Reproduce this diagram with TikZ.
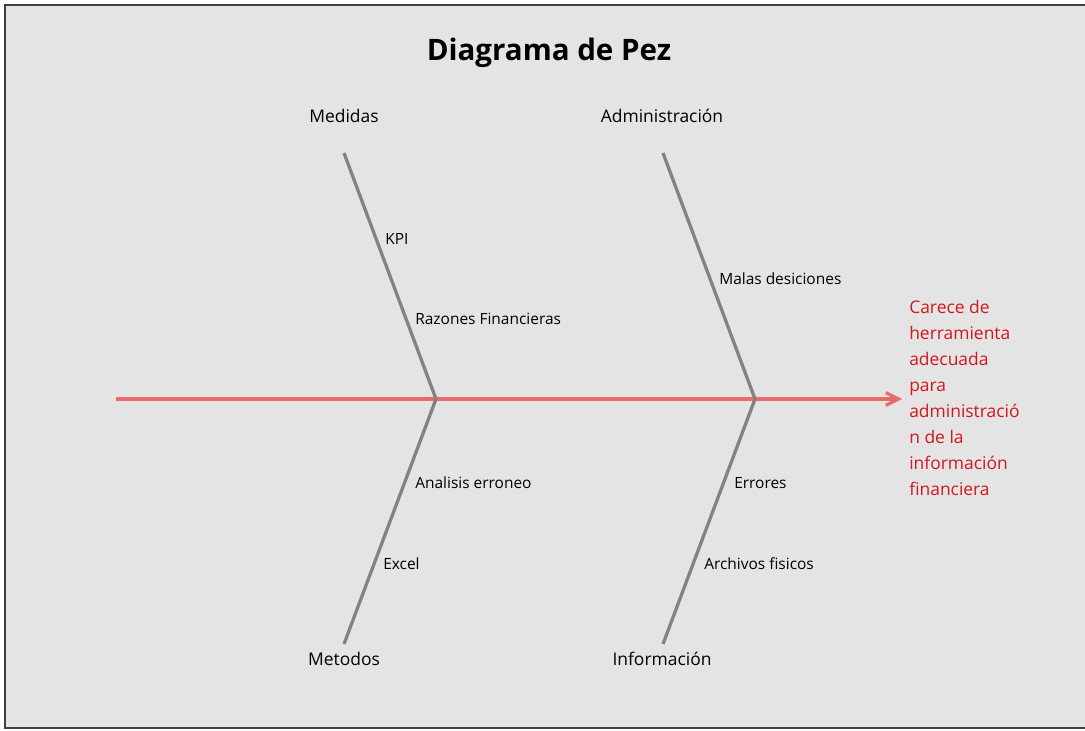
\documentclass[tikz,border=0pt]{standalone}
\usepackage{fontspec}
\setmainfont{Open Sans}
\usetikzlibrary{arrows.meta}
\definecolor{fondo}{HTML}{E4E4E4}
\definecolor{hueso}{HTML}{828282}
\definecolor{espina}{HTML}{E86A6A}
\definecolor{efecto}{HTML}{D2171E}
\tikzset{
    hueso/.style={draw=hueso, line width=2.3pt},
    espina/.style={draw=espina, line width=2.3pt, -{Straight Barb[length=9pt,width=9pt]}},
    categoria/.style={font=\fontsize{12.4}{15}\selectfont, inner sep=0pt},
    causa/.style={font=\fontsize{11}{13}\selectfont, anchor=west, inner sep=0pt},
}
\begin{document}
\begin{tikzpicture}[x=0.025cm,y=-0.025cm]
    \useasboundingbox (0,0) rectangle (1085,730);
    \fill[fondo] (5,5) rectangle (1085,728);
    \draw[black!75, line width=1pt] (1085,5) -- (5,5) -- (5,728) -- (1085,728);
    % titulo
    \node[font=\bfseries\fontsize{21}{25}\selectfont] (titulo) at (549,53) {Diagrama de Pez};
    % espina central
    \coordinate (cola) at (116,399);
    \coordinate (cabeza) at (902,399);
    \coordinate (nudoA) at (436,399);
    \coordinate (nudoB) at (755,399);
    \draw[espina] (cola) -- (cabeza);
    % huesos
    \coordinate (medidas) at (344,153);
    \coordinate (metodos) at (344,644);
    \coordinate (admin) at (663,153);
    \coordinate (info) at (663,644);
    \draw[hueso] (medidas) -- (nudoA) -- (metodos);
    \draw[hueso] (admin) -- (nudoB) -- (info);
    % categorias
    \node[categoria] (lmedidas) at (344,116) {Medidas};
    \node[categoria] (ladmin) at (662,116) {Administración};
    \node[categoria] (lmetodos) at (344,659) {Metodos};
    \node[categoria] (linfo) at (662,659) {Información};
    % causas
    \node[causa] (kpi) at (385,239) {KPI};
    \node[causa] (razones) at (415,319) {Razones Financieras};
    \node[causa] (malas) at (719,279) {Malas desiciones};
    \node[causa] (analisis) at (415,483) {Analisis erroneo};
    \node[causa] (excel) at (383,564) {Excel};
    \node[causa] (errores) at (734,483) {Errores};
    \node[causa] (archivos) at (704,564) {Archivos fisicos};
    % efecto
    \node[anchor=north west, inner sep=0pt, align=left, text=efecto,
          font=\fontsize{12.4}{18.5}\selectfont] (efecto) at (909,300)
        {Carece de\\herramienta\\adecuada\\para\\administració\\n de la\\información\\financiera};
\end{tikzpicture}
\end{document}
